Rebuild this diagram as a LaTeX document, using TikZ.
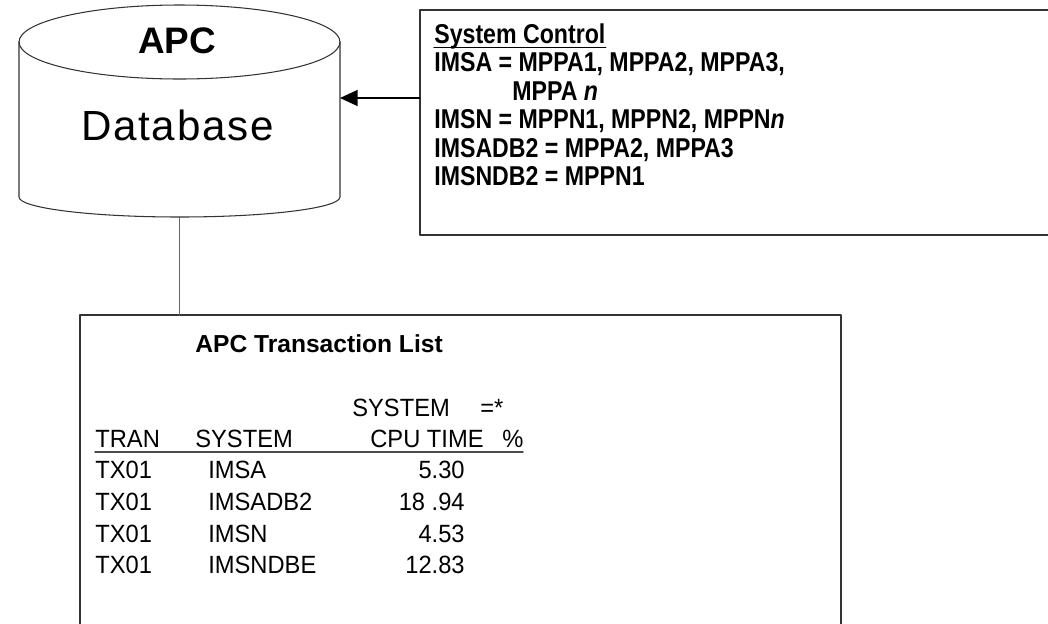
\documentclass[tikz,border=0pt]{standalone}
\usepackage{fontspec}
\setmainfont{Liberation Sans}
\newfontfamily\ctrlfont{Liberation Sans}[FakeStretch=0.85]
\newfontfamily\listfont{Liberation Sans}[FakeStretch=0.95]
\newfontfamily\dbfont{Liberation Sans}[LetterSpace=4]
\usetikzlibrary{arrows.meta}
\begin{document}
\begin{tikzpicture}[x=0.02cm,y=-0.02cm,line cap=round,line join=round,
  ctrltext/.style={font=\ctrlfont\fontsize{15.5}{16}\selectfont\bfseries,anchor=base west,inner sep=0pt},
  celltext/.style={font=\listfont\fontsize{14.2}{16}\selectfont,anchor=base west,inner sep=0pt},
  numtext/.style={font=\listfont\fontsize{14.2}{16}\selectfont,anchor=base east,inner sep=0pt}]
  \useasboundingbox (0,0) rectangle (1048,623);
  \clip (0,0) rectangle (1048,623);
  % database cylinder
  \coordinate (DBtop) at (179.5,42);
  \coordinate (DBE) at (340,98);
  \coordinate (DBS) at (179.5,217);
  \draw[line width=0.6pt,black!80] (DBtop) ellipse[x radius=160.5, y radius=37];
  \draw[line width=0.6pt,black!80] (19,42) -- (19,197)
    arc[start angle=180, end angle=0, x radius=160.5, y radius=20] -- (340,42);
  \node[font=\fontsize{21}{24}\selectfont\bfseries,anchor=base,inner sep=0pt] (apc) at (177,53) {APC};
  \node[font=\dbfont\fontsize{24}{26}\selectfont,anchor=base,inner sep=0pt] (dbname) at (177.5,140) {Database};
  % system control box
  \coordinate (CtrlW) at (420,98);
  \draw[line width=1.1pt,black!80] (1060,10) -- (420,10) -- (420,235) -- (1060,235);
  \node[ctrltext] (sc) at (434,43) {System Control};
  \draw[line width=0.8pt] ([yshift=-2.5pt]sc.base west) -- ([yshift=-2.5pt]sc.base east);
  \node[ctrltext] (imsa) at (434,71) {IMSA = MPPA1, MPPA2, MPPA3,};
  \node[ctrltext] (imsan) at (512,100) {MPPA \textit{n}};
  \node[ctrltext] (imsn) at (434,128) {IMSN = MPPN1, MPPN2, MPPN\textit{n}};
  \node[ctrltext] (imsadb) at (434,157) {IMSADB2 = MPPA2, MPPA3};
  \node[ctrltext] (imsndb) at (434,185) {IMSNDB2 = MPPN1};
  \draw[line width=1.1pt,-{Triangle[length=10pt,width=9pt]}] (CtrlW) -- (DBE);
  % transaction list box
  \coordinate (ListN) at (179.5,315);
  \draw[line width=1.1pt,black!80] (80,640) -- (80,315) -- (841,315) -- (841,640);
  \draw[line width=1pt,black!60] (DBS) -- (ListN);
  \node[font=\fontsize{14}{16}\selectfont\bfseries,anchor=base west,inner sep=0pt] (title) at (195,352) {APC Transaction List};
  \node[celltext] (hsys) at (352,416) {SYSTEM};
  \node[celltext] (heq) at (480,416) {=*};
  \node[celltext] (htran) at (95,447) {TRAN};
  \node[celltext] (hsystem) at (195,447) {SYSTEM};
  \node[celltext] (hcpu) at (370,447) {CPU TIME};
  \node[celltext] (hpct) at (502,447) {\%};
  \draw[line width=1.1pt,black!70] (95,452) -- (523,452);
  \foreach \nm/\val/\y in {IMSA/5.30/478, IMSADB2/18 .94/510, IMSN/4.53/542, IMSNDBE/12.83/573} {
    \node[celltext] at (95,\y) {TX01};
    \node[celltext] at (208,\y) {\nm};
    \node[numtext] at (465,\y) {\val};
  }
\end{tikzpicture}
\end{document}
